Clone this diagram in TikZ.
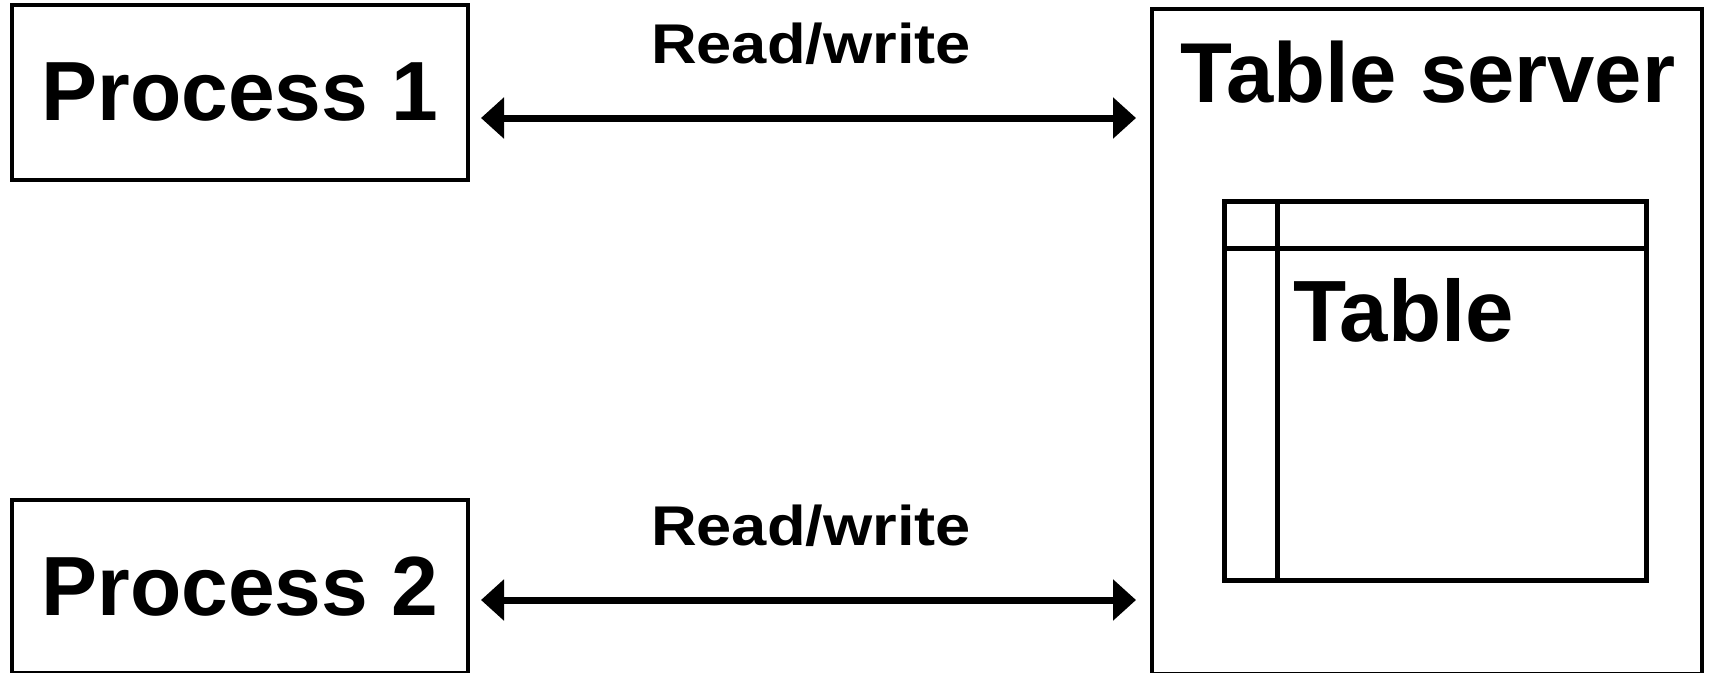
\documentclass[tikz,border=0pt]{standalone}
\usepackage{fontspec}
\setmainfont{Liberation Sans}
\usetikzlibrary{arrows.meta}
\begin{document}
\begin{tikzpicture}[x=1pt,y=-1pt,
  box/.style={draw, line width=4pt, outer sep=0pt, inner sep=0pt},
  big/.style={font=\fontsize{87}{100}\selectfont\bfseries},
  proc/.style={box, font=\fontsize{84}{100}\selectfont\bfseries, minimum width=456pt, anchor=north west},
  lbl/.style={font=\fontsize{56}{66}\selectfont\bfseries, inner sep=0pt, anchor=base, xscale=1.13},
  rw/.style={{Triangle[length=23pt,width=40pt]}-{Triangle[length=23pt,width=40pt]}, line width=7pt},
]
\useasboundingbox (0,0) rectangle (1710,672);

% processes
\node[proc, minimum height=175pt] (p1) at (12,5) {Process 1};
\node[proc, minimum height=173pt] (p2) at (12,500) {Process 2};

% server with its table
\node[box, minimum width=550pt, minimum height=665pt, anchor=north west] (srv) at (1152,9) {};
\node[font=\fontsize{85}{100}\selectfont\bfseries, inner sep=0pt, anchor=base] (srvtitle) at (1428,102) {Table server};
\node[box, line width=5pt, minimum width=422pt, minimum height=379pt, anchor=north west] (tbl) at (1224,201) {};
\draw[line width=5pt] ([xshift=53pt]tbl.north west) -- ([xshift=53pt]tbl.south west);
\draw[line width=5pt] ([yshift=-47pt]tbl.north west) -- ([yshift=-47pt]tbl.north east);
\node[big, inner sep=0pt, anchor=base west] (tbltext) at (1293,341) {Table};

% read/write links
\coordinate (y1) at (0,118);
\coordinate (y2) at (0,600);
\draw[rw, shorten <=13pt, shorten >=16pt] (p1.east |- y1) -- (srv.west |- y1);
\draw[rw, shorten <=13pt, shorten >=16pt] (p2.east |- y2) -- (srv.west |- y2);
\node[lbl] (rw1) at (811,63) {Read/write};
\node[lbl] (rw2) at (811,545) {Read/write};
\end{tikzpicture}
\end{document}
